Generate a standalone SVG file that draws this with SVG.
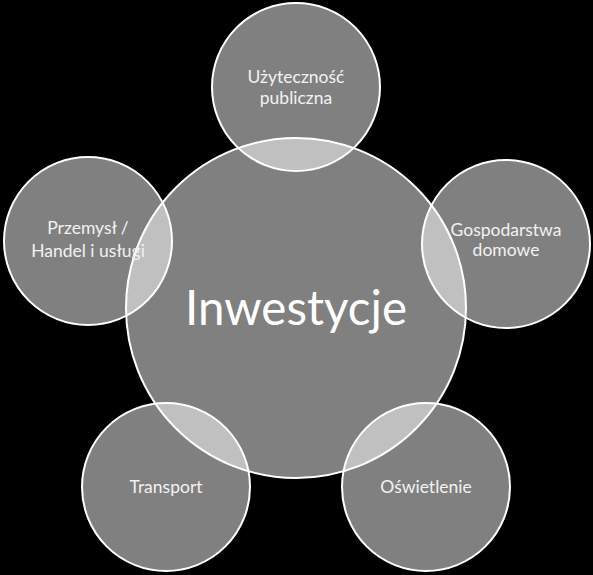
<svg xmlns="http://www.w3.org/2000/svg" width="593" height="575" viewBox="0 0 593 575">
<style>
.c{fill:#ffffff;fill-opacity:0.5;stroke:#ffffff;stroke-width:2}
.t{font-family:Lato,"Open Sans",sans-serif;font-size:17.5px;fill:#f2f2f2;text-anchor:middle}
.big{font-family:Lato,"Open Sans",sans-serif;font-size:47.5px;fill:#ffffff;text-anchor:middle}
</style>
<rect width="593" height="575" fill="#000000"/>
<g id="connectors"></g>
<g id="center"><circle class="c" cx="296" cy="308" r="170"/><text class="big" x="296" y="325">Inwestycje</text></g>
<g id="top"><circle class="c" cx="296" cy="87" r="84"/><text class="t" x="296" y="83">Użyteczność</text><text class="t" x="296" y="104">publiczna</text></g>
<g id="right"><circle class="c" cx="506" cy="244" r="84"/><text class="t" x="506" y="236">Gospodarstwa</text><text class="t" x="506" y="256">domowe</text></g>
<g id="bottomright"><circle class="c" cx="426" cy="487" r="84"/><text class="t" x="426" y="493">Oświetlenie</text></g>
<g id="bottomleft"><circle class="c" cx="166" cy="487" r="84"/><text class="t" x="166" y="493">Transport</text></g>
<g id="left"><circle class="c" cx="88" cy="241" r="84"/><text class="t" x="88" y="234">Przemysł /</text><text class="t" x="88" y="257">Handel i usługi</text></g>
</svg>
